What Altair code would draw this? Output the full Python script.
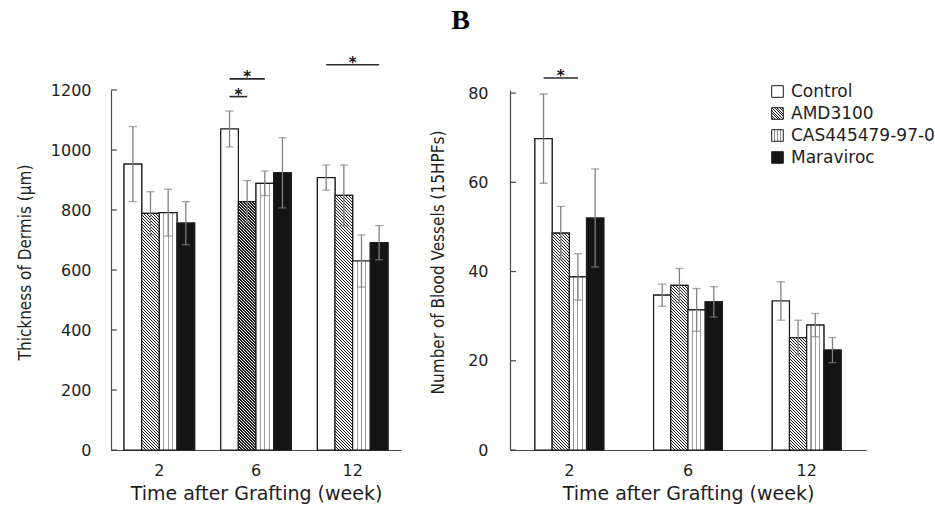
import json
import altair as alt

groups = ["Control", "AMD3100", "CAS445479-97-0", "Maraviroc"]
weeks = ["2", "6", "12"]

# Thickness of Dermis (µm): mean and error per group at weeks 2, 6, 12
dermis_control = [953, 1070, 908]
dermis_amd = [789, 828, 849]
dermis_cas = [791, 889, 630]
dermis_mara = [756, 924, 691]
dermis_control_err = [125, 60, 42]
dermis_amd_err = [72, 70, 101]
dermis_cas_err = [78, 41, 87]
dermis_mara_err = [72, 117, 57]

# Number of Blood Vessels (15HPFs)
vessels_control = [69.8, 34.7, 33.4]
vessels_amd = [48.6, 36.9, 25.2]
vessels_cas = [38.8, 31.4, 28.0]
vessels_mara = [52.0, 33.2, 22.4]
vessels_control_err = [10.0, 2.5, 4.3]
vessels_amd_err = [6.0, 3.8, 3.9]
vessels_cas_err = [5.2, 4.8, 2.6]
vessels_mara_err = [11.0, 3.4, 2.8]

dermis_ticks = [0, 200, 400, 600, 800, 1000, 1200]
vessels_ticks = [0, 20, 40, 60, 80]

# significance brackets: week, first group, last group, bracket level
dermis_sig_week = ["6", "6", "12"]
dermis_sig_from = ["Control", "Control", "Control"]
dermis_sig_to = ["AMD3100", "CAS445479-97-0", "Maraviroc"]
dermis_sig_level = [1178, 1237, 1284]
vessels_sig_week = ["2"]
vessels_sig_from = ["Control"]
vessels_sig_to = ["CAS445479-97-0"]
vessels_sig_level = [83.4]

FONT = "DejaVu Sans"
NARROW = "Liberation Sans Narrow, DejaVu Sans Condensed, Roboto Condensed, sans-serif"
INK = "#1c1c1c"
PAPER = "#ffffff"
BLACK = "#141414"
TEXT = "#1e1e1e"
AXIS = "#4a4a4a"
ERR = "#808080"


def hatch(w, h, period=3.0, dark=1.25):
    """diagonal '\\' hatch as a linear gradient in the mark's bounding box"""
    L = w + h
    s = L / (w * w + h * h)
    stops = [{"offset": 0, "color": PAPER}]
    pos = 0.6
    while pos < L:
        a = round(pos / L, 5)
        b = round(min(pos + dark, L) / L, 5)
        stops += [{"offset": a, "color": PAPER}, {"offset": a, "color": INK},
                  {"offset": b, "color": INK}, {"offset": b, "color": PAPER}]
        pos += period
    stops.append({"offset": 1, "color": PAPER})
    return {"gradient": "linear", "x1": 0, "y1": 1,
            "x2": round(s * w, 6), "y2": round(1 - s * h, 6), "stops": stops}


def vstripes(n=3, frac=0.1, color="#8a8a8a"):
    """thin vertical dotted-look lines as a horizontal gradient"""
    stops = [{"offset": 0, "color": PAPER}]
    for k in range(n):
        c = (k + 1) / (n + 1)
        a, b = round(c - frac / 2, 4), round(c + frac / 2, 4)
        stops += [{"offset": a, "color": PAPER}, {"offset": a, "color": color},
                  {"offset": b, "color": color}, {"offset": b, "color": PAPER}]
    stops.append({"offset": 1, "color": PAPER})
    return {"gradient": "linear", "x1": 0, "y1": 0, "x2": 1, "y2": 0, "stops": stops}


legend_range = [PAPER,
                {"expr": json.dumps(hatch(11.6, 11.6, period=2.6, dark=1.1))},
                {"expr": json.dumps(vstripes())},
                BLACK]


def panel(series, errs, ymax, ticks, ytitle, width, height, pin, pout,
          sig_week, sig_from, sig_to, sig_level, legend, title_pad, label_pad):
    sub = width / 3.0 * (1 - pin) / 4.0
    ppu = height / ymax
    rows = []
    for g, vals, es in zip(groups, series, errs):
        for w, v, e in zip(weeks, vals, es):
            if g == "AMD3100":
                paint = hatch(sub, v * ppu)
            elif g == "CAS445479-97-0":
                paint = vstripes(frac=0.065, color="#9c9c9c")
            elif g == "Maraviroc":
                paint = BLACK
            else:
                paint = PAPER
            rows.append({"week": w, "group": g, "value": v, "lo": v - e, "hi": v + e,
                         "paint": paint})
    base = alt.Chart(alt.Data(values=rows))

    xaxis = alt.Axis(title="Time after Grafting (week)", labelAngle=0, ticks=False,
                     domainColor=AXIS, domainWidth=1.2, labelFont=FONT, labelFontSize=16,
                     labelColor=TEXT, labelPadding=12, titleFont=FONT, titleFontSize=19,
                     titleFontWeight="normal", titleColor=TEXT, titlePadding=6)
    xscale = alt.Scale(domain=weeks, paddingInner=pin, paddingOuter=pout)
    yaxis = alt.Axis(title=ytitle, values=ticks, format="d", ticks=False, grid=False,
                     domainColor=AXIS, domainWidth=1.2, labelFont=FONT, labelFontSize=16,
                     labelColor=TEXT, labelPadding=label_pad, titleFont=NARROW,
                     titleFontSize=17, titleFontWeight="normal", titleColor=TEXT,
                     titlePadding=title_pad, titleY=172)
    yscale = alt.Scale(domain=[0, ymax], nice=False, zero=True)

    def X():
        return alt.X("week:N", sort=weeks, scale=xscale, axis=xaxis, title="Time after Grafting (week)")

    def XO():
        return alt.XOffset("group:N", sort=groups, scale=alt.Scale(domain=groups))

    def Y(f):
        return alt.Y(f, scale=yscale, axis=yaxis, title=ytitle)

    # bottom layer carries the legend (its symbols take the patterned fills)
    keyed = base.mark_bar(stroke=INK, strokeWidth=1.2).encode(
        x=X(), xOffset=XO(), y=Y("value:Q"),
        fill=alt.Fill("group:N", sort=groups,
                      scale=alt.Scale(domain=groups, range=legend_range),
                      legend=legend),
    )
    bars = base.mark_bar(stroke=INK, strokeWidth=1.2).encode(
        x=X(), xOffset=XO(), y=Y("value:Q"), fill=alt.Fill("paint:N", scale=None))
    err = base.mark_rule(color=ERR, strokeWidth=1.3).encode(
        x=X(), xOffset=XO(), y=Y("lo:Q"), y2="hi:Q")
    cap_hi = base.mark_tick(color=ERR, size=8, thickness=1.3).encode(
        x=X(), xOffset=XO(), y=Y("hi:Q"))
    cap_lo = base.mark_tick(color=ERR, size=8, thickness=1.3).encode(
        x=X(), xOffset=XO(), y=Y("lo:Q"))

    tick_rows = [{"t": t} for t in ticks]
    inward = alt.Chart(alt.Data(values=tick_rows)).mark_rule(color=AXIS, strokeWidth=1.2).encode(
        y=Y("t:Q"), x=alt.value(0), x2=alt.value(6))

    sig_rows = []
    for i, (w, a, b, lvl) in enumerate(zip(sig_week, sig_from, sig_to, sig_level)):
        sig_rows.append({"id": i, "week": w, "group": a, "level": lvl})
        sig_rows.append({"id": i, "week": w, "group": b, "level": lvl})
    sig_lines = alt.Chart(alt.Data(values=sig_rows)).mark_line(
        color="#2a2a2a", strokeWidth=1.6).encode(
        x=X(), xOffset=XO(), y=Y("level:Q"), detail="id:N")
    stars = []
    for i, (w, a, b, lvl) in enumerate(zip(sig_week, sig_from, sig_to, sig_level)):
        shift = (groups.index(b) - groups.index(a)) / 2.0 * sub
        stars.append(alt.Chart(alt.Data(values=[{"week": w, "group": a, "level": lvl}])).mark_text(
            text="*", font=FONT, fontSize=15, fontWeight="bold", color="#111",
            baseline="alphabetic", dx=shift, dy=3).encode(
            x=X(), xOffset=XO(), y=Y("level:Q")))

    return alt.layer(keyed, bars, err, cap_hi, cap_lo, inward, sig_lines, *stars).properties(
        width=width, height=height)


legend = alt.Legend(
    title=None, orient="none", legendX=259, legendY=-7, symbolType="square", symbolSize=135,
    symbolStrokeColor=INK, symbolStrokeWidth=1, labelFont=FONT, labelFontSize=17,
    labelColor=TEXT, labelOffset=5, rowPadding=4, padding=0,
)

left = panel([dermis_control, dermis_amd, dermis_cas, dermis_mara],
             [dermis_control_err, dermis_amd_err, dermis_cas_err, dermis_mara_err],
             1200, dermis_ticks, "Thickness of Dermis (µm)", 290, 360, 0.27, 0.135,
             dermis_sig_week, dermis_sig_from, dermis_sig_to, dermis_sig_level, None, 16, 20)
right = panel([vessels_control, vessels_amd, vessels_cas, vessels_mara],
              [vessels_control_err, vessels_amd_err, vessels_cas_err, vessels_mara_err],
              80.7, vessels_ticks, "Number of Blood Vessels (15HPFs)", 356, 360, 0.42, 0.21,
              vessels_sig_week, vessels_sig_from, vessels_sig_to, vessels_sig_level, legend, 20, 22)

chart = alt.hconcat(left, right, spacing=109, bounds="flush").resolve_scale(
    x="independent", y="independent", fill="independent", xOffset="independent"
).properties(
    title=alt.TitleParams("B", anchor="middle", font="Liberation Serif", fontSize=28,
                          fontWeight="bold", color="#000000", offset=21, dx=-15),
    padding={"left": 16, "top": 6, "right": 0, "bottom": 4},
    background="#ffffff",
).configure_view(stroke=None)

chart.save("out.html", embed_options={"renderer": "svg", "actions": False})
